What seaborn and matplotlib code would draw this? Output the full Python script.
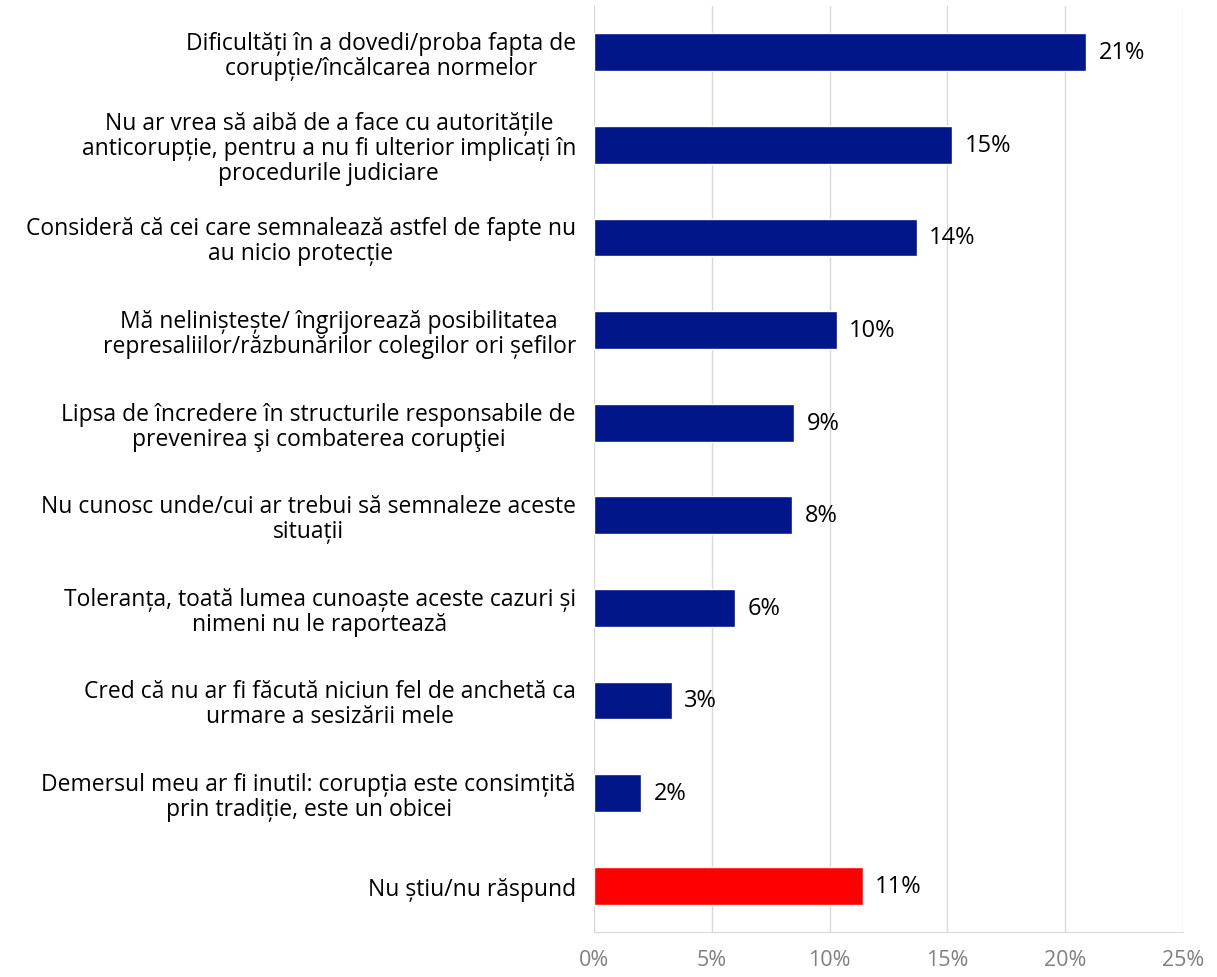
import matplotlib
matplotlib.use("Agg")
import matplotlib.pyplot as plt
import seaborn as sns
import pandas as pd

categories = [
    "Dificultăți în a dovedi/proba fapta de\ncorupție/încălcarea normelor",
    "Nu ar vrea să aibă de a face cu autoritățile\nanticorupție, pentru a nu fi ulterior implicați în\nprocedurile judiciare",
    "Consideră că cei care semnalează astfel de fapte nu\nau nicio protecție",
    "Mă neliniștește/ îngrijorează posibilitatea\nrepresaliilor/răzbunărilor colegilor ori șefilor",
    "Lipsa de încredere în structurile responsabile de\nprevenirea şi combaterea corupţiei",
    "Nu cunosc unde/cui ar trebui să semnaleze aceste\nsituații",
    "Toleranța, toată lumea cunoaște aceste cazuri și\nnimeni nu le raportează",
    "Cred că nu ar fi făcută niciun fel de anchetă ca\nurmare a sesizării mele",
    "Demersul meu ar fi inutil: corupția este consimțită\nprin tradiție, este un obicei",
    "Nu știu/nu răspund",
]
values = [20.9, 15.2, 13.7, 10.3, 8.5, 8.4, 6.0, 3.3, 2.0, 11.4]
value_labels = ["21%", "15%", "14%", "10%", "9%", "8%", "6%", "3%", "2%", "11%"]
colors = ["#001689"] * 9 + ["#ff0000"]
x_ticks = [0, 5, 10, 15, 20, 25]
x_tick_labels = ["0%", "5%", "10%", "15%", "20%", "25%"]

df = pd.DataFrame({"cat": categories, "val": values})

sns.set_style("white")
plt.rcParams["font.family"] = ["Open Sans", "DejaVu Sans"]

fig = plt.figure(figsize=(12.17, 9.78), dpi=100)
ax = fig.add_axes([594 / 1217, 1 - 933 / 978, (1183 - 594) / 1217, (933 - 7) / 978])

sns.barplot(data=df, y="cat", x="val", hue="cat", palette=colors, legend=False,
            orient="h", width=0.41, ax=ax, saturation=1)

ax.set_xlim(0, 25)
ax.set_ylim(len(categories) - 0.5, -0.5)
ax.set_xticks(x_ticks)
ax.set_xticklabels(x_tick_labels, fontsize=15.5, color="#808080")
ax.tick_params(axis="x", length=0, pad=12)
ax.tick_params(axis="y", length=0, pad=13)
ax.set_yticks(range(len(categories)))
ax.set_yticklabels(categories, fontsize=16.5, color="#000000", multialignment="center",
                   linespacing=1.05)
ax.set_xlabel("")
ax.set_ylabel("")
ax.xaxis.grid(True, color="#d9d9d9", linewidth=1)
ax.set_axisbelow(True)
for s in ["top", "right", "left"]:
    ax.spines[s].set_visible(False)
ax.spines["bottom"].set_color("#d9d9d9")

for i, (v, lab) in enumerate(zip(values, value_labels)):
    ax.annotate(lab, xy=(v, i), xytext=(9, 0), textcoords="offset points",
                va="center", ha="left", fontsize=17, color="#000000")

fig.savefig("out.png", dpi=100)
